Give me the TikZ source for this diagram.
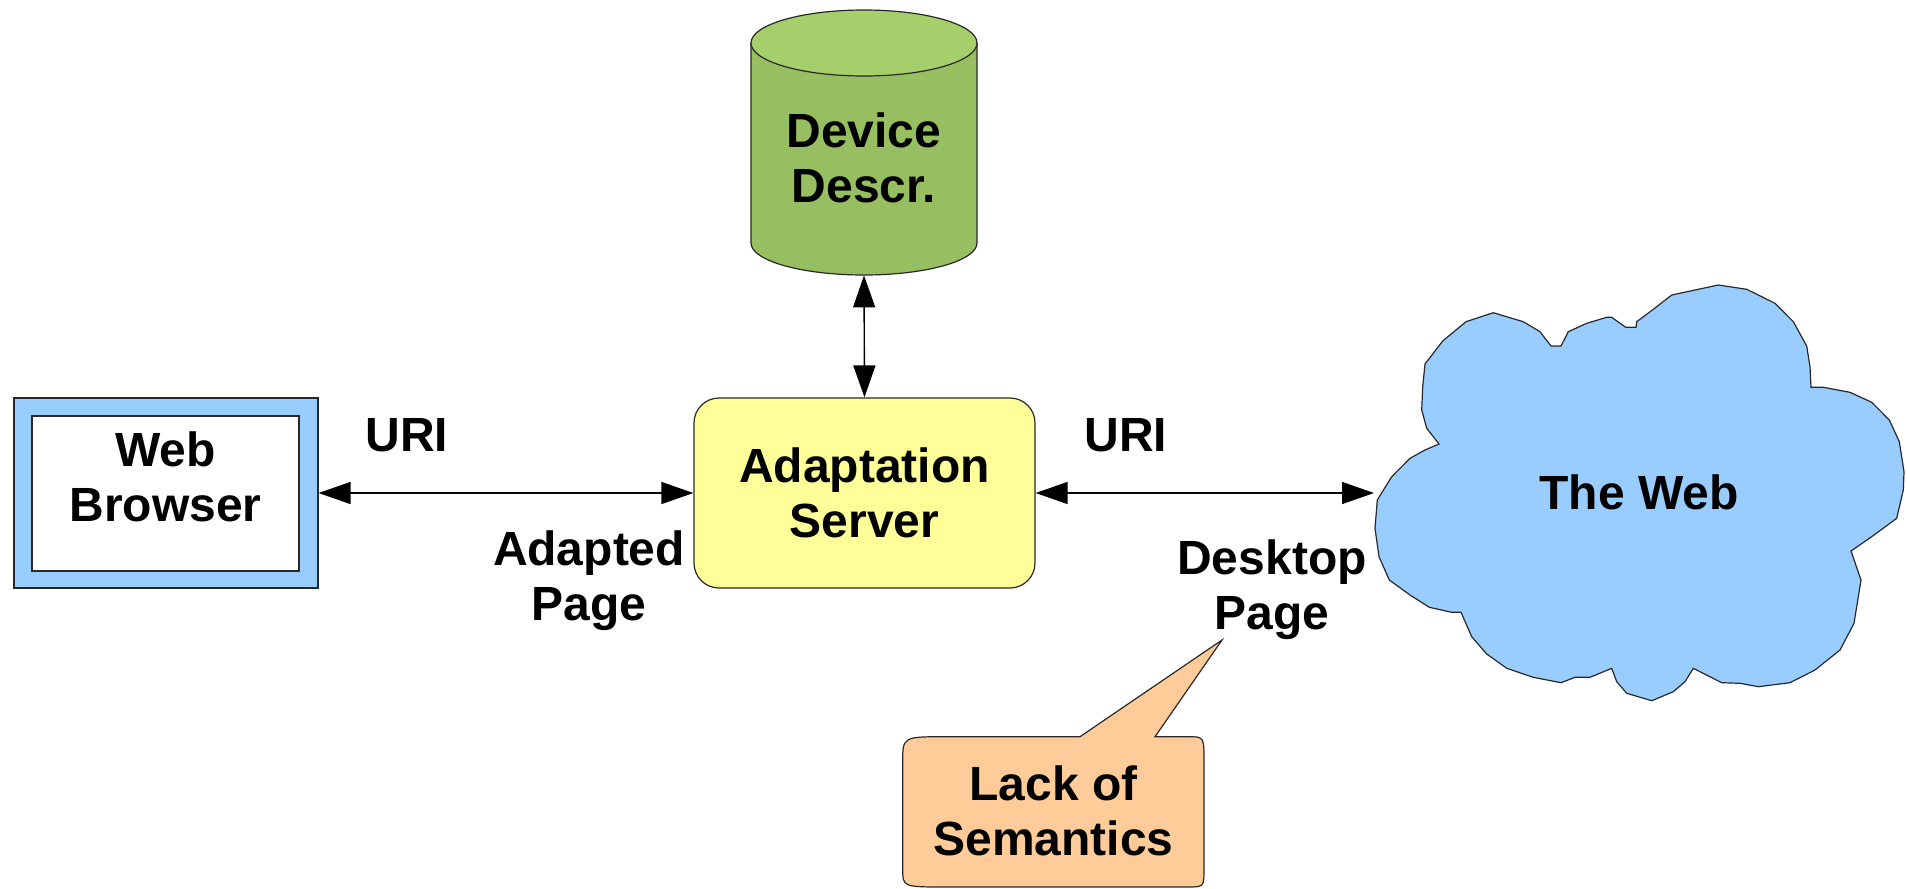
\documentclass[tikz,border=0pt]{standalone}
\usepackage{fontspec}
\setmainfont{Liberation Sans}
\usetikzlibrary{arrows.meta}
\definecolor{skyblue}{RGB}{153,204,255}
\definecolor{srvyellow}{RGB}{255,255,153}
\definecolor{calloutorange}{RGB}{255,204,153}
\definecolor{cylbody}{RGB}{151,190,96}
\definecolor{cyltop}{RGB}{165,207,106}
\definecolor{edgecol}{RGB}{40,40,40}
\begin{document}
\begin{tikzpicture}[x=0.5pt,y=-0.5pt,
  outline/.style={draw=edgecol, line width=0.6pt},
  bigtext/.style={font=\fontsize{24}{27.5}\selectfont\bfseries, align=center, inner sep=0pt},
  conn/.style={line width=0.7pt, {Triangle[length=16pt,width=11pt]}-{Triangle[length=16pt,width=11pt]}},
]
\useasboundingbox (0,0) rectangle (1907,889);

% web browser
\node[outline, fill=skyblue, minimum width=152pt, minimum height=95pt, inner sep=0pt] (browser) at (166,493) {};
\node[outline, fill=white, minimum width=133.5pt, minimum height=77.5pt, inner sep=0pt] (browserin) at (165.5,493.5) {};
\node[bigtext] (browserlbl) at (165.5,477) {Web\\Browser};

% adaptation server
\node[outline, fill=srvyellow, rounded corners=12.5pt, minimum width=170.5pt, minimum height=95pt, bigtext] (server) at (864.5,493) {Adaptation\\Server};

% device description cylinder
\path[outline, fill=cylbody] (751,43) -- (751,243) arc[start angle=180, end angle=360, x radius=56.5pt, y radius=16pt] -- (977,43) -- cycle;
\draw[outline, fill=cyltop] (864,43) ellipse[x radius=56.5pt, y radius=16.5pt];
\node[inner sep=0pt, minimum width=113pt, minimum height=132.5pt] (device) at (864,142.5) {};
\node[bigtext] (devicelbl) at (864,158) {Device\\Descr.};

% the web cloud
\draw[outline, fill=skyblue] (1493.3,312.7) -- (1523.3,321.7) -- (1540,331.7) -- (1551,346) -- (1561,346) -- (1568.3,331.7) -- (1586.7,323.3) -- (1606.7,317.3) -- (1611.7,317.3) -- (1625.7,327.3) -- (1636,327.3) -- (1636.7,321.7) -- (1653.3,309.3) -- (1671.7,295) -- (1718.3,285) -- (1746.7,289.3) -- (1775,303.3) -- (1793.3,321.7) -- (1806.7,346) -- (1810,366.7) -- (1811,387.3) -- (1823.3,387.3) -- (1850,392.3) -- (1871.7,402.3) -- (1889.3,420) -- (1899.3,441.7) -- (1904,471.7) -- (1903.3,490) -- (1896.7,518.3) -- (1871.7,536.7) -- (1851,551) -- (1861,580) -- (1854,623.3) -- (1840,650) -- (1815,670) -- (1790,682.7) -- (1758.3,686.7) -- (1740,683.3) -- (1721.7,682.7) -- (1693.3,668.3) -- (1685,681.7) -- (1673.3,691.7) -- (1651.7,700.7) -- (1626.7,693.3) -- (1616.7,681.7) -- (1611.7,668.3) -- (1590,677.3) -- (1575,677.3) -- (1561,682.7) -- (1533.3,677.3) -- (1506.7,668.3) -- (1486.7,654) -- (1471.7,636.7) -- (1461,612.3) -- (1451.7,612.3) -- (1429.3,607.3) -- (1410,595) -- (1389.3,580) -- (1379,556.7) -- (1375,528.3) -- (1377.3,500) -- (1391.7,476.7) -- (1410,458.3) -- (1425,450) -- (1439,444) -- (1426.7,428.3) -- (1421.7,410) -- (1422.7,386.7) -- (1425,364) -- (1442.7,341) -- (1466,321.7) -- cycle;
\node[bigtext] (web) at (1639,492.5) {The Web};
\coordinate (webin) at (1374,493);

% connectors
\draw[conn] (browser.east) -- (server.west);
\draw[conn] (server.east) -- (webin);
\draw[conn] (device.south) -- (server.north);

% connector labels
\node[bigtext] (uri1) at (407,435) {URI};
\node[bigtext] (adapted) at (589,581) {Adapted\\Page};
\node[bigtext] (uri2) at (1126,435) {URI};
\node[bigtext] (desktop) at (1272,590) {Desktop\\Page};

% callout
\draw[outline, fill=calloutorange] (902.7,761.7) .. controls (902.7,736.7) .. (946.7,736.7) -- (1080,736.7) -- (1222,640) -- (1155,736.7) -- (1188,736.7) .. controls (1204,736.7) .. (1204,761.7) -- (1204,869) .. controls (1204,887) .. (1187,887) -- (946.7,887) .. controls (902.7,887) .. (902.7,869) -- cycle;
\node[bigtext] (lack) at (1053.5,810.5) {Lack of\\Semantics};
\end{tikzpicture}
\end{document}
